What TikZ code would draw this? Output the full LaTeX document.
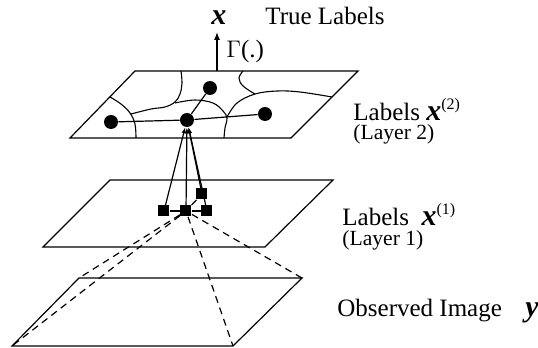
\documentclass[tikz,border=0pt]{standalone}
\usepackage{fontspec}
\setmainfont{Liberation Serif}
\usetikzlibrary{arrows.meta,positioning}
\newcommand{\bvar}[1]{\raisebox{0pt}[\height][0pt]{\fontsize{15}{16}\selectfont\bfseries\itshape #1}}
\newcommand{\sups}[1]{\raisebox{5.5pt}{\fontsize{8}{8}\selectfont #1}}
\tikzset{
  plane/.style={draw=black, line width=0.6pt},
  region/.style={draw=black, line width=0.55pt},
  link/.style={line width=0.6pt},
  arrow/.style={-{Latex[length=3pt,width=2.2pt]}, line width=0.6pt},
  dashedline/.style={line width=0.6pt, dash pattern=on 3.5pt off 2.5pt},
  dot/.style={circle, fill=black, minimum size=7pt, inner sep=0pt},
  sq/.style={rectangle, fill=black, minimum size=5.5pt, inner sep=0pt},
  lab/.style={font=\fontsize{12.5}{13}\selectfont, inner sep=0pt, anchor=base west},
  sublab/.style={font=\fontsize{10.8}{12}\selectfont, inner sep=0pt, anchor=base west}
}
\begin{document}
\begin{tikzpicture}[x=0.5pt, y=-0.5pt]
\useasboundingbox (0,0) rectangle (538,348);
% planes
\draw[plane] (135,71) -- (358,71) -- (291,138) -- (70,138) -- cycle;
\draw[plane] (110,180) -- (333,180) -- (265,247) -- (43,247) -- cycle;
\draw[plane] (79,278) -- (302,278) -- (233,346) -- (12,346) -- cycle;
\coordinate (img-tl) at (79,278);
\coordinate (img-tr) at (302,278);
\coordinate (img-br) at (233,346);
\coordinate (img-bl) at (12,346);
% regions on layer 2
\draw[region] plot[smooth, tension=0.6] coordinates {(110,97) (121,104) (130,113) (135,124) (136,138)};
\draw[region] plot[smooth, tension=0.6] coordinates {(181,71) (182,83) (180,94) (175,102) (165,107) (151,109) (131,114)};
\draw[region] plot[smooth, tension=0.6] coordinates {(175,103) (195,100) (213,103) (223,111) (227,118) (225,128) (224,138)};
\draw[region] plot[smooth, tension=0.6] coordinates {(227,117) (237,103) (255,94) (277,91) (300,92) (332,97)};
\draw[region] plot[smooth, tension=0.6] coordinates {(243,71) (239,78) (243,86) (255,94)};
% layer 2 labels
\node[dot] (c) at (187,120) {};
\node[dot] (dl) at (111,122) {};
\node[dot] (dt) at (210,88) {};
\node[dot] (dr) at (265,114) {};
\draw[link] (dl) -- (c);
\draw[link] (c) -- (dt);
\draw[link] (c) -- (dr);
% layer 1 labels
\node[sq] (s1) at (164,211) {};
\node[sq] (s2) at (186,211) {};
\node[sq] (s3) at (207,211) {};
\node[sq] (s4) at (202,194) {};
\draw[link] (s1) -- (s2) -- (s3);
\draw[link] (s2) -- (s4);
\draw[arrow] (s1) -- (c);
\draw[arrow] (s2) -- (c);
\draw[arrow] (s4) -- (c);
\draw[arrow] (s3) -- (c);
% receptive field
\foreach \k in {img-tl,img-tr,img-br,img-bl}
  \draw[dashedline] (s2) -- (\k);
% true labels
\coordinate (g0) at (217,71);
\coordinate (g1) at (217,32);
\draw[arrow, -{Latex[length=4pt,width=3pt]}] (g0) -- (g1);
\node[lab] (gam) at (226,58) {$\Gamma$(.)};
\node[inner sep=0pt] (xt) at (219,18) {\bvar{x}};
\node[lab] (tl) at (265,25) {True Labels};
% side texts
\node[lab] (l2) at (353,120) {Labels \bvar{x}\sups{(2)}};
\node[sublab] (l2s) at (353,140) {(Layer 2)};
\node[lab] (l1) at (342,226) {Labels \ \bvar{x}\sups{(1)}};
\node[sublab] (l1s) at (342,246) {(Layer 1)};
\node[lab] (obs) at (337,317) {Observed Image};
\node[lab] (yv) at (525,317) {\bvar{y}};
\end{tikzpicture}
\end{document}
